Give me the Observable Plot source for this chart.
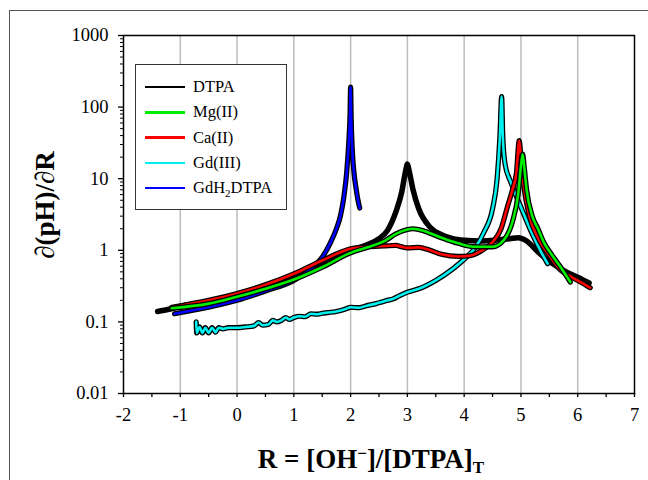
<!DOCTYPE html>
<html>
<head>
<meta charset="utf-8">
<script src="https://cdn.jsdelivr.net/npm/d3@7"></script>
<script src="https://cdn.jsdelivr.net/npm/@observablehq/plot@0.6"></script>
<style>
  html, body { margin: 0; padding: 0; background: #fff; }
  #wrap { position: relative; width: 648px; height: 480px; overflow: hidden; font-family: "Liberation Serif", "Times New Roman", Times, serif; }
  #border { position: absolute; left: 9px; top: 10px; width: 700px; height: 520px; border-top: 1.5px solid #555; border-left: 1.5px solid #555; }
  #plot { position: absolute; left: 0; top: 0; }
  .lab { position: absolute; font-weight: bold; font-size: 27px; white-space: nowrap; color: #000; }
  #ylab { left: 45px; top: 205px; transform: translate(-50%, -50%) rotate(-90deg); }
  #xlab { left: 371px; top: 461px; transform: translate(-50%, -50%); }
  #xlab sub { font-size: 17px; vertical-align: -5px; }
  #xlab sup { font-size: 17px; vertical-align: 9px; }
  #legend { position: absolute; left: 135px; top: 64px; width: 152px; height: 146px; border: 1.5px solid #333; background: #fff; box-sizing: border-box; }
  .row { position: absolute; left: 0; height: 20px; font-size: 16.5px; display: flex; align-items: center; }
  .row .sw { width: 40px; height: 2.5px; margin-left: 9px; margin-right: 8px; }
  .row sub { font-size: 11px; vertical-align: -4px; }
</style>
</head>
<body>
<div id="wrap">
  <div id="border"></div>
  <div id="plot"></div>
  <div class="lab" id="ylab">∂(pH)/∂R</div>
  <div class="lab" id="xlab">R = [OH<sup>−</sup>]/[DTPA]<sub>T</sub></div>
  <div id="legend"></div>
</div>
<script>
// ---- data ----
const seriesNames = ["DTPA", "Mg(II)", "Ca(II)", "Gd(III)", "GdH2DTPA"];
const seriesColors = ["#000000", "#00ee00", "#ff0000", "#00f0f0", "#0000ff"];

const dtpaR = [-1.4,-1.2,-1.0,-0.5,0,0.5,1.0,1.5,2.0,2.3,2.5,2.65,2.8,2.9,2.97,3.0,3.03,3.1,3.2,3.4,3.6,3.8,4.0,4.3,4.6,4.8,4.95,5.1,5.3,5.5,5.8,6.0,6.2];
const dtpaV = [0.14,0.15,0.165,0.19,0.235,0.31,0.43,0.65,1.0,1.2,1.45,1.9,3.5,6.5,13,16,13,7,3.8,2.1,1.65,1.45,1.38,1.35,1.4,1.45,1.5,1.35,0.95,0.7,0.5,0.42,0.35];

const mgR = [-1.15,-0.5,0,0.5,1.0,1.5,2.0,2.3,2.6,2.8,3.0,3.1,3.3,3.6,3.9,4.2,4.5,4.7,4.85,4.95,5.0,5.03,5.06,5.1,5.2,5.3,5.4,5.55,5.7,5.87];
const mgV = [0.155,0.18,0.225,0.29,0.39,0.58,0.92,1.1,1.35,1.7,1.95,2.0,1.85,1.5,1.25,1.12,1.12,1.4,2.5,6,15,22,14,7,3.0,2.0,1.3,0.85,0.58,0.36];

const caR = [-1.15,-0.5,0,0.5,1.0,1.5,2.0,2.3,2.6,2.8,2.9,3.0,3.2,3.4,3.6,3.9,4.1,4.3,4.5,4.65,4.76,4.85,4.92,4.97,5.0,5.05,5.15,5.3,5.5,5.7,5.9,6.05,6.22];
const caV = [0.16,0.2,0.25,0.33,0.47,0.72,1.05,1.12,1.15,1.17,1.12,1.08,1.1,1.0,0.88,0.82,0.84,0.98,1.3,2.0,4,7,12,34,20,8,3,1.5,0.85,0.53,0.42,0.36,0.30];

const gdR = [-0.72,-0.71,-0.66,-0.61,-0.56,-0.5,-0.44,-0.38,-0.32,-0.25,-0.15,0,0.15,0.3,0.38,0.45,0.55,0.63,0.7,0.78,0.86,0.92,1.0,1.1,1.2,1.3,1.4,1.5,1.6,1.75,1.9,2.0,2.15,2.3,2.45,2.55,2.65,2.75,2.85,3.0,3.2,3.5,3.8,4.0,4.2,4.35,4.5,4.58,4.63,4.66,4.68,4.72,4.82,5.0,5.17,5.34,5.47];
const gdV = [0.1,0.07,0.085,0.07,0.083,0.07,0.083,0.072,0.083,0.08,0.083,0.083,0.085,0.088,0.098,0.09,0.092,0.105,0.1,0.105,0.115,0.108,0.115,0.12,0.118,0.13,0.128,0.132,0.135,0.14,0.15,0.16,0.158,0.17,0.18,0.19,0.2,0.21,0.23,0.26,0.29,0.38,0.55,0.75,1.1,1.8,3.8,10,40,140,40,16,9,4,1.9,1.0,0.65];

const gdh2R = [-1.1,-0.5,0,0.5,1.0,1.3,1.5,1.65,1.75,1.82,1.88,1.93,1.97,1.99,2.0,2.01,2.03,2.06,2.1,2.13,2.16];
const gdh2V = [0.13,0.16,0.2,0.27,0.38,0.55,0.8,1.3,2.0,3.0,5.5,12,35,80,190,70,25,12,7,5,3.9];

const xTicks = [-2,-1,0,1,2,3,4,5,6,7];
const xTickLabels = ["-2","-1","0","1","2","3","4","5","6","7"];
const xMinor = [-1.5,-0.5,0.5,1.5,2.5,3.5,4.5,5.5,6.5];
const yTicks = [0.01,0.1,1,10,100,1000];
const yTickLabels = ["0.01","0.1","1","10","100","1000"];
const xGrid = [-1,0,1,2,3,4,5,6];

// ---- build ----
const FONT = "Liberation Serif, Times New Roman, serif";
const series = [
  {name: "DTPA", R: dtpaR, V: dtpaV, color: seriesColors[0], w: 5.5, o: 0},
  {name: "Gd(III)", R: gdR, V: gdV, color: seriesColors[3], w: 2.6, o: 2.6},
  {name: "GdH2DTPA", R: gdh2R, V: gdh2V, color: seriesColors[4], w: 2.6, o: 2.6},
  {name: "Ca(II)", R: caR, V: caV, color: seriesColors[2], w: 2.6, o: 2.6},
  {name: "Mg(II)", R: mgR, V: mgV, color: seriesColors[1], w: 2.6, o: 2.6}
];

const yMinor = [];
for (let e = -2; e < 3; e++) for (let k = 2; k <= 9; k++) yMinor.push(k * Math.pow(10, e));

const marks = [
  Plot.gridX(xGrid, {stroke: "#bdbdbd", strokeOpacity: 1, strokeWidth: 1.5}),
  Plot.axisX(xMinor.concat(xTicks), {tickSize: 4, text: null, label: null, strokeWidth: 1.3}),
  Plot.axisY(yMinor, {tickSize: 3, text: null, label: null, strokeWidth: 1}),
  Plot.axisY(yTicks, {tickSize: 5, text: null, label: null, strokeWidth: 1.3}),
  Plot.text(xTicks, {x: d => d, frameAnchor: "bottom", dy: 27, text: (d, i) => xTickLabels[i], fontFamily: FONT, fontSize: 18.5, fill: "#000"}),
  Plot.text(yTicks, {y: d => d, frameAnchor: "left", dx: -15, textAnchor: "end", text: (d, i) => yTickLabels[i], fontFamily: FONT, fontSize: 18.5, fill: "#000"}),
];

for (const s of series) {
  const data = s.R.map((r, i) => ({r, v: s.V[i]}));
  if (s.o > 0) {
    marks.push(Plot.line(data, {x: "r", y: "v", stroke: "#000", strokeWidth: s.w + s.o, curve: "monotone-x", strokeLinecap: "round", strokeLinejoin: "round"}));
  }
  marks.push(Plot.line(data, {x: "r", y: "v", stroke: s.color, strokeWidth: s.w, curve: "monotone-x", strokeLinecap: "round", strokeLinejoin: "round"}));
}
marks.push(Plot.frame({stroke: "#000", strokeWidth: 1.5}));

const chart = Plot.plot({
  width: 648,
  height: 480,
  marginLeft: 123,
  marginRight: 14,
  marginTop: 35,
  marginBottom: 87,
  style: {fontFamily: FONT, fontSize: "18px", background: "transparent", color: "#000"},
  x: {domain: [-2, 7], axis: null},
  y: {type: "log", domain: [0.01, 1000], axis: null},
  marks
});
document.getElementById("plot").appendChild(chart);

// ---- legend ----
const legendLabels = ["DTPA", "Mg(II)", "Ca(II)", "Gd(III)", "GdH<sub>2</sub>DTPA"];
const leg = document.getElementById("legend");
legendLabels.forEach((lab, i) => {
  const row = document.createElement("div");
  row.className = "row";
  row.style.top = (12 + i * 25.3) + "px";
  row.innerHTML = `<span class="sw" style="background:${seriesColors[i]}"></span><span>${lab}</span>`;
  leg.appendChild(row);
});
</script>
</body>
</html>
